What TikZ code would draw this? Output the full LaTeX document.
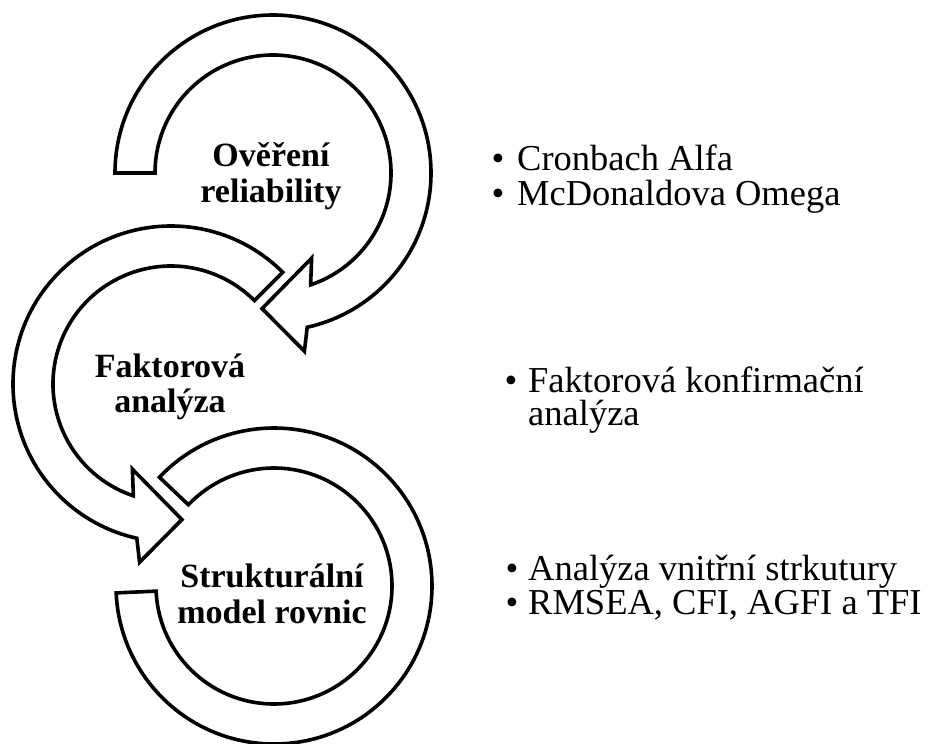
\documentclass[tikz,border=0pt]{standalone}
\usepackage{fontspec}
\setmainfont{Liberation Serif}
\usetikzlibrary{calc}
\begin{document}
\begin{tikzpicture}[x=1pt,y=1pt,
  band/.style={draw=black, line width=3.6pt, fill=white, line join=miter},
  lbl/.style={font=\fontsize{34}{36}\selectfont\bfseries, anchor=base, inner sep=0pt},
  bul/.style={font=\fontsize{36.5}{36}\selectfont, anchor=base west, inner sep=0pt},
  dot/.style={font=\fontsize{36.5}{36}\selectfont, anchor=base, inner sep=0pt}]
\useasboundingbox (0,0) rectangle (932,-744);
\coordinate (T) at (273,-173);
\coordinate (M) at (171,-384);
\coordinate (B) at (274,-586);
% top arrow
\draw[band] ($(T)+(180:158pt)$) arc[start angle=180, end angle=-77.5, radius=158pt]
  -- ($(T)+(-80:181pt)$) -- ($(T)+(-94.6:136pt)$) -- ($(T)+(-65.6:93.5pt)$)
  -- ($(T)+(-71.4:118pt)$) arc[start angle=-71.4, end angle=180, radius=118pt] -- cycle;
% middle arrow
\draw[band] ($(M)+(45:158pt)$) arc[start angle=45, end angle=257.5, radius=158pt]
  -- ($(M)+(260:181pt)$) -- ($(M)+(274.6:136pt)$) -- ($(M)+(245.6:93.5pt)$)
  -- ($(M)+(251.4:118pt)$) arc[start angle=251.4, end angle=45, radius=118pt] -- cycle;
% bottom band
\draw[band] ($(B)+(136.5:158pt)$) arc[start angle=136.5, end angle=-177.5, radius=158pt]
  -- ($(B)+(-177.5:118pt)$) arc[start angle=-177.5, end angle=136.5, radius=118pt] -- cycle;
% labels
\node[lbl] (l1a) at (271,-166) {Ověření};
\node[lbl] (l1b) at (271,-202) {reliability};
\node[lbl] (l2a) at (170,-377) {Faktorová};
\node[lbl] (l2b) at (170,-412) {analýza};
\node[lbl] (l3a) at (272,-587) {Strukturální};
\node[lbl] (l3b) at (272,-623) {model rovnic};
% bullets
\node[dot] (b1) at (498,-170) {•};
\node[bul] (t1) at (517,-170) {Cronbach Alfa};
\node[dot] (b2) at (498,-205) {•};
\node[bul] (t2) at (517,-205) {McDonaldova Omega};
\node[dot] (b3) at (511,-392) {•};
\node[bul] (t3) at (528,-392) {Faktorová konfirmační};
\node[bul] (t3b) at (528,-425) {analýza};
\node[dot] (b4) at (512,-580) {•};
\node[bul] (t4) at (528,-580) {Analýza vnitřní strkutury};
\node[dot] (b5) at (512,-614) {•};
\node[bul] (t5) at (528,-614) {RMSEA, CFI, AGFI a TFI};
\end{tikzpicture}
\end{document}
